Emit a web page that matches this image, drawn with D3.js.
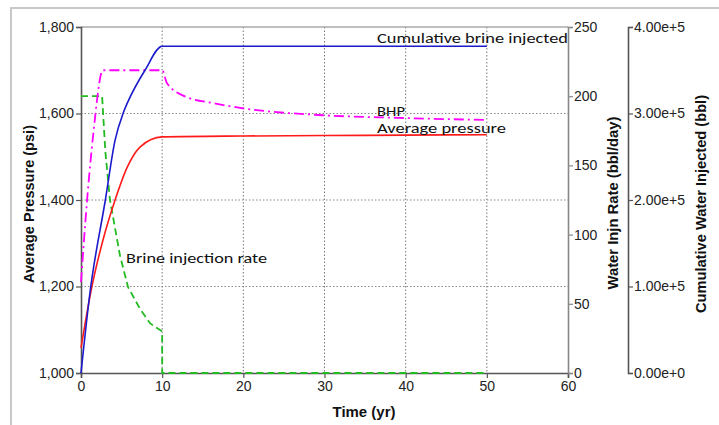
<!DOCTYPE html>
<html>
<head>
<meta charset="utf-8">
<script src="https://cdn.jsdelivr.net/npm/d3@7"></script>
<style>
body { margin: 0; background: #fff; }
svg text { font-family: "Liberation Sans", Arial, sans-serif; }
</style>
</head>
<body>
<script>
"use strict";
const xTicks = [0, 10, 20, 30, 40, 50, 60];
const pTicks = [1000, 1200, 1400, 1600, 1800];
const rateTicks = [0, 50, 100, 150, 200, 250];
const cumTicks = [0, 100000, 200000, 300000, 400000];
const cumTickLabels = ["0.00e+0", "1.00e+5", "2.00e+5", "3.00e+5", "4.00e+5"];

const bhpT = [0, 0.75, 1.5, 2.7, 10, 10.6, 13, 16.3, 19.6, 29.8, 39, 50];
const bhpP = [1210, 1400, 1550, 1700, 1700, 1670, 1638, 1624, 1613, 1596, 1590, 1585];
const avgT = [0, 1.3, 2.7, 4.2, 5.7, 7.3, 10, 20, 30, 40, 50];
const avgP = [1058, 1196, 1307, 1400, 1476, 1523, 1546, 1548, 1549, 1550, 1551];
const rateT = [0, 2.6, 3.0, 3.57, 4.8, 5.8, 7.3, 8.5, 10, 10, 50];
const rateV = [200, 200, 160, 125, 85, 62, 46, 36, 30, 0, 0];
const cumT = [0, 1.1, 3.0, 4.2, 5.2, 5.8, 7.9, 10, 50];
const cumV = [0, 92500, 200000, 269300, 300600, 314000, 350300, 377800, 377800];

const w = 719, h = 425;
const pLeft = 81, pRight = 568, pTop = 27, pBottom = 373;
const cumAxisX = 628;

const svg = d3.select("body").append("svg").attr("width", w).attr("height", h);

// outer frame
svg.append("rect").attr("x", 11).attr("y", 8).attr("width", 800).attr("height", 450)
  .attr("fill", "none").attr("stroke", "#c8c8c8").attr("stroke-width", 2);

const x = d3.scaleLinear().domain([0, 60]).range([pLeft, pRight]);
const yP = d3.scaleLinear().domain([1000, 1800]).range([pBottom, pTop]);
const yRate = d3.scaleLinear().domain([0, 250]).range([pBottom, pTop]);
const yCum = d3.scaleLinear().domain([0, 400000]).range([pBottom, pTop]);

// grid
svg.append("g").selectAll("line").data(xTicks.filter(d => d > 0 && d < 60)).join("line")
  .attr("x1", d => x(d)).attr("x2", d => x(d)).attr("y1", pTop).attr("y2", pBottom)
  .attr("stroke", "#777").attr("stroke-width", 1).attr("stroke-dasharray", "1.5,2");
svg.append("g").selectAll("line").data(pTicks.filter(d => d > 1000 && d < 1800)).join("line")
  .attr("x1", pLeft).attr("x2", pRight).attr("y1", d => yP(d)).attr("y2", d => yP(d))
  .attr("stroke", "#888").attr("stroke-width", 1).attr("stroke-dasharray", "1.5,2");

// top border of plot
svg.append("line").attr("x1", pLeft).attr("x2", pRight).attr("y1", pTop).attr("y2", pTop)
  .attr("stroke", "#aaa").attr("stroke-width", 1.5);

function styleAxis(g, color) {
  g.select(".domain").attr("stroke", color).attr("stroke-width", 1.6);
  g.selectAll(".tick line").attr("stroke", color).attr("stroke-width", 1.2);
  g.selectAll(".tick text").attr("fill", "#222").style("font-size", "14px")
    .style("font-family", "'Liberation Sans', Arial, sans-serif");
}

const gx = svg.append("g").attr("transform", "translate(0," + pBottom + ")")
  .call(d3.axisBottom(x).tickValues(xTicks).tickSizeOuter(0).tickSize(5).tickPadding(3));
styleAxis(gx, "#555");

const gyP = svg.append("g").attr("transform", "translate(" + pLeft + ",0)")
  .call(d3.axisLeft(yP).tickValues(pTicks).tickFormat(d3.format(",")).tickSizeOuter(0).tickSize(5).tickPadding(2));
styleAxis(gyP, "#555");

const gyRate = svg.append("g").attr("transform", "translate(" + pRight + ",0)")
  .call(d3.axisRight(yRate).tickValues(rateTicks).tickSizeOuter(0).tickSize(5).tickPadding(1));
styleAxis(gyRate, "#888");

const gyCum = svg.append("g").attr("transform", "translate(" + cumAxisX + ",0)")
  .call(d3.axisRight(yCum).tickValues(cumTicks).tickFormat((d, i) => cumTickLabels[i])
    .tickSizeOuter(0).tickSize(5).tickPadding(1));
styleAxis(gyCum, "#555");

// series
function pts(ts, vs) { return ts.map((t, i) => [t, vs[i]]); }

svg.append("path").datum(pts(rateT, rateV))
  .attr("d", d3.line().x(d => x(d[0])).y(d => yRate(d[1])).curve(d3.curveLinear))
  .attr("fill", "none").attr("stroke", "#22bb22").attr("stroke-width", 1.8)
  .attr("stroke-dasharray", "7,4");

svg.append("path").datum(pts(bhpT, bhpP))
  .attr("d", d3.line().x(d => x(d[0])).y(d => yP(d[1])).curve(d3.curveMonotoneX))
  .attr("fill", "none").attr("stroke", "#ff00ff").attr("stroke-width", 1.8)
  .attr("stroke-dasharray", "10,4,2,4");

svg.append("path").datum(pts(avgT, avgP))
  .attr("d", d3.line().x(d => x(d[0])).y(d => yP(d[1])).curve(d3.curveMonotoneX))
  .attr("fill", "none").attr("stroke", "#ff1a1a").attr("stroke-width", 1.6);

svg.append("path").datum(pts(cumT, cumV))
  .attr("d", d3.line().x(d => x(d[0])).y(d => yCum(d[1])).curve(d3.curveMonotoneX))
  .attr("fill", "none").attr("stroke", "#1a1acc").attr("stroke-width", 1.6);

// in-plot labels
const labels = [
  { text: "Cumulative brine injected", x: 377, y: 43, len: 191 },
  { text: "BHP", x: 377, y: 116, len: 28 },
  { text: "Average pressure", x: 377, y: 133, len: 129 },
  { text: "Brine injection rate", x: 126, y: 263, len: 141 }
];
svg.append("g").selectAll("text").data(labels).join("text")
  .attr("x", d => d.x).attr("y", d => d.y).text(d => d.text)
  .attr("textLength", d => d.len).attr("lengthAdjust", "spacingAndGlyphs")
  .style("font-family", "Carlito, Lato, 'Open Sans', sans-serif").style("font-size", "15px").attr("fill", "#111");

// axis titles
const titles = [
  { text: "Average Pressure (psi)", x: 34, y: 204, len: 158, rot: true },
  { text: "Water Injn Rate (bbl/day)", x: 618, y: 203, len: 173, rot: true },
  { text: "Cumulative Water Injected (bbl)", x: 706, y: 204, len: 218, rot: true },
  { text: "Time (yr)", x: 364, y: 417, len: 63, rot: false }
];
svg.append("g").selectAll("text").data(titles).join("text")
  .attr("transform", d => "translate(" + d.x + "," + d.y + ")" + (d.rot ? " rotate(-90)" : ""))
  .attr("text-anchor", "middle").attr("textLength", d => d.len).attr("lengthAdjust", "spacingAndGlyphs")
  .style("font-size", "15px").style("font-weight", "bold").attr("fill", "#111").text(d => d.text);
</script>
</body>
</html>
